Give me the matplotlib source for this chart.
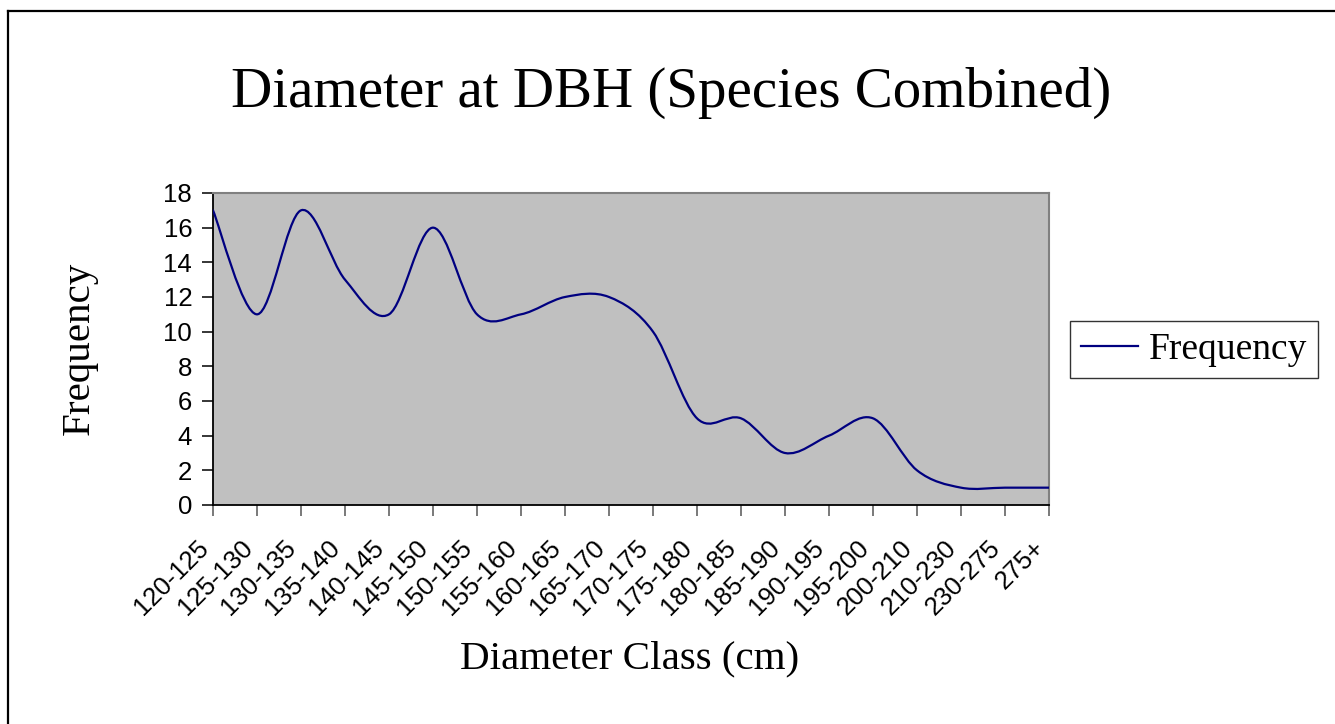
import numpy as np
import matplotlib
matplotlib.use("Agg")
import matplotlib.pyplot as plt
from matplotlib.path import Path
from matplotlib.patches import PathPatch
from matplotlib.lines import Line2D
from matplotlib.transforms import ScaledTranslation

# diameter classes and tree counts
classes = ["120-125", "125-130", "130-135", "135-140", "140-145", "145-150",
           "150-155", "155-160", "160-165", "165-170", "170-175", "175-180",
           "180-185", "185-190", "190-195", "195-200", "200-210", "210-230",
           "230-275", "275+"]
frequency = [17, 11, 17, 13, 11, 16, 11, 11, 12, 12, 10, 5, 5, 3, 4, 5, 2, 1, 1, 1]

serif = "Liberation Serif"
sans = "Liberation Sans"
line_col = "#000080"

fig = plt.figure(figsize=(13.35, 7.24), dpi=100)
fig.patch.set_facecolor("white")

# outer chart border (only left and top edge visible in the original)
fig.add_artist(Line2D([8 / 1335, 8 / 1335], [0, 1 - 11 / 724], color="black", lw=1.6,
                      transform=fig.transFigure))
fig.add_artist(Line2D([8 / 1335, 1], [1 - 11 / 724, 1 - 11 / 724], color="black", lw=1.6,
                      transform=fig.transFigure))

ax = fig.add_axes([213 / 1335, 1 - 505 / 724, 836 / 1335, 312 / 724])
ax.set_facecolor("#c0c0c0")

# smoothed line like excel: bezier through the points
x = np.arange(len(frequency), dtype=float)
y = np.array(frequency, dtype=float)
pts = np.column_stack([x, y])
prev = np.vstack([pts[:1], pts[:-1]])
nxt = np.vstack([pts[1:], pts[-1:]])
tang = (nxt - prev) / 6.0
verts = [tuple(pts[0])]
codes = [Path.MOVETO]
for i in range(len(pts) - 1):
    verts += [tuple(pts[i] + tang[i]), tuple(pts[i + 1] - tang[i + 1]), tuple(pts[i + 1])]
    codes += [Path.CURVE4] * 3
ax.add_patch(PathPatch(Path(verts, codes), fill=False, edgecolor=line_col, lw=1.6,
                       capstyle="round", joinstyle="round", zorder=3))

ax.set_xlim(0, len(classes) - 1)
ax.set_ylim(0, 18)
ax.set_yticks(range(0, 19, 2))
ax.set_xticks(x)
ax.set_xticklabels(classes, rotation=45, ha="right", va="top", rotation_mode="anchor",
                   fontsize=18.5, family=sans)
ax.set_yticklabels([str(v) for v in range(0, 19, 2)], fontsize=18.5, family=sans)
ax.tick_params(axis="y", direction="out", length=8, width=1.1, pad=7, color="black")
ax.tick_params(axis="x", direction="out", length=8, width=1.1, pad=14, color="#555555")
for lab in ax.get_xticklabels():
    lab.set_transform(lab.get_transform() + ScaledTranslation(-17 / 100, 0, fig.dpi_scale_trans))

for side in ["left", "bottom"]:
    ax.spines[side].set_color("black")
    ax.spines[side].set_linewidth(1.3)
for side in ["top", "right"]:
    ax.spines[side].set_color("#808080")
    ax.spines[side].set_linewidth(1.5)

fig.text(671 / 1335, 1 - 107 / 724, "Diameter at DBH (Species Combined)", family=serif,
         fontsize=41, ha="center", va="baseline")
fig.text(630 / 1335, 1 - 668 / 724, "Diameter Class (cm)", family=serif,
         fontsize=29.5, ha="center", va="baseline")
fig.text(79 / 1335, 1 - 348 / 724, "Frequency", family=serif, fontsize=29.5,
         rotation=90, ha="center", va="center")

handle = Line2D([], [], color=line_col, lw=1.6)
leg = fig.legend([handle], ["Frequency"], loc="upper left",
                 bbox_to_anchor=(1070 / 1335, 1 - 321 / 724), borderaxespad=0,
                 prop={"family": serif, "size": 27}, frameon=True, fancybox=False,
                 handlelength=1.5, handletextpad=0.3, borderpad=0.3)
leg.get_frame().set_edgecolor("black")
leg.get_frame().set_linewidth(1.0)

fig.savefig("out.png", dpi=100, facecolor="white")
